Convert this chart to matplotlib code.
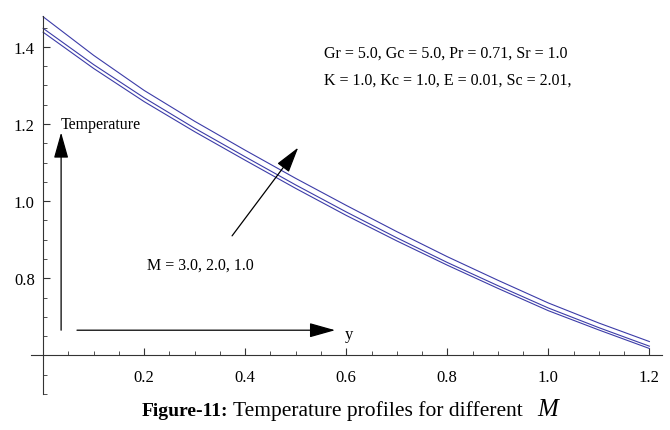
import numpy as np
import matplotlib.pyplot as plt
from matplotlib.ticker import MultipleLocator, FixedLocator

plt.rcParams['font.family'] = ['Liberation Serif', 'DejaVu Serif']

# valores
y_vals = [0.0, 0.1, 0.2, 0.3, 0.4, 0.5, 0.6, 0.7, 0.8, 0.9, 1.0, 1.1, 1.2]
temp_M3 = [1.478, 1.378, 1.287, 1.207, 1.132, 1.059, 0.989, 0.921, 0.856, 0.795, 0.736, 0.684, 0.636]
temp_M2 = [1.448, 1.354, 1.268, 1.189, 1.115, 1.042, 0.972, 0.905, 0.841, 0.781, 0.723, 0.672, 0.624]
temp_M1 = [1.438, 1.344, 1.258, 1.180, 1.106, 1.033, 0.963, 0.897, 0.834, 0.774, 0.716, 0.666, 0.618]

xticks = [0.2, 0.4, 0.6, 0.8, 1.0, 1.2]
yticks = [0.8, 1.0, 1.2, 1.4]

fig = plt.figure(figsize=(6.7, 4.31), dpi=100)
# ejes: pixeles 31..662 en x, 17..395 en y
ax = fig.add_axes([31/670, 1-395/431, (662-31)/670, (395-17)/431])
ax.set_xlim(-0.024, 1.225)
ax.set_ylim(0.5, 1.48)

color = '#3c3ca8'
for t in (temp_M3, temp_M2, temp_M1):
    ax.plot(y_vals, t, color=color, lw=0.8)

# estilo Mathematica: ejes cruzados
ax.spines['left'].set_position(('data', 0.0))
ax.spines['bottom'].set_position(('data', 0.6))
ax.spines['top'].set_visible(False)
ax.spines['right'].set_visible(False)
for s in ('left', 'bottom'):
    ax.spines[s].set_linewidth(0.8)
    ax.spines[s].set_color('#333333')

ax.xaxis.set_major_locator(FixedLocator(xticks))
ax.yaxis.set_major_locator(FixedLocator(yticks))
ax.xaxis.set_minor_locator(MultipleLocator(0.05))
ax.yaxis.set_minor_locator(MultipleLocator(0.05))
ax.set_xticklabels([f"{v:.1f}" for v in xticks])
ax.set_yticklabels([f"{v:.1f}" for v in yticks])
ax.tick_params(which='major', direction='in', length=5, width=0.8, labelsize=12, color='#333333')
ax.tick_params(which='minor', direction='in', length=3, width=0.6, color='#333333')
ax.tick_params(axis='x', pad=9.5)
ax.tick_params(axis='y', pad=6)

# flechas
arr = dict(arrowstyle='-|>,head_length=1.6,head_width=0.45', color='black', lw=0.9,
           shrinkA=0, shrinkB=0)
ax.annotate('', xy=(0.0356, 1.178), xytext=(0.0356, 0.6654), arrowprops=arr)
ax.annotate('', xy=(0.578, 0.6654), xytext=(0.067, 0.6654), arrowprops=arr)
ax.annotate('', xy=(0.505, 1.139), xytext=(0.374, 0.910), arrowprops=arr)

ax.text(0.034, 1.2, 'Temperature', fontsize=11.5, va='center', ha='left')
ax.text(0.598, 0.655, 'y', fontsize=12, va='center', ha='left')
ax.text(0.206, 0.835, 'M = 3.0, 2.0, 1.0', fontsize=11.5, va='center', ha='left')
ax.text(0.556, 1.386, 'Gr = 5.0, Gc = 5.0, Pr = 0.71, Sr = 1.0', fontsize=11.5, va='center', ha='left')
ax.text(0.556, 1.314, 'K = 1.0, Kc = 1.0, E = 0.01, Sc = 2.01,', fontsize=11.5, va='center', ha='left')

# pie de figura
yb = 1 - 416.5/431
fig.text(142/670, yb, 'Figure-11:', fontsize=14, fontweight='bold', va='baseline', ha='left')
fig.text(233/670, yb, 'Temperature profiles for different', fontsize=15.5, va='baseline', ha='left')
fig.text(537/670, yb, 'M', fontsize=18, style='italic', va='baseline', ha='left')

fig.savefig('out.png', dpi=100)
